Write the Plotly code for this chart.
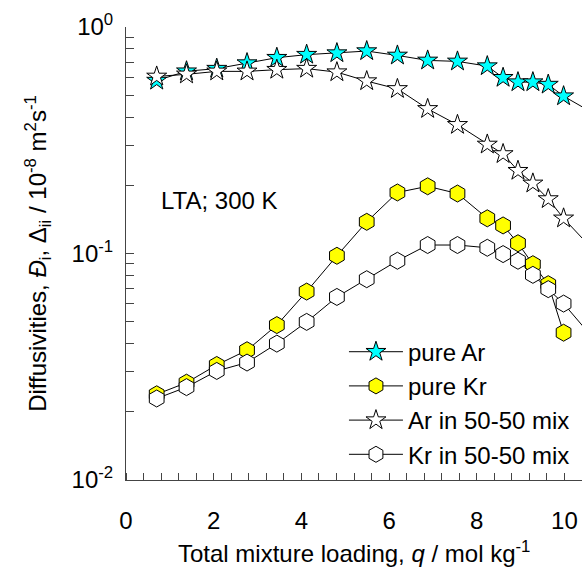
import plotly.graph_objects as go

# Loading points (mol/kg) shared by all four series
q = [0.70, 1.38, 2.07, 2.76, 3.44, 4.12, 4.81, 5.49, 6.19, 6.88,
     7.56, 8.24, 8.60, 8.94, 9.28, 9.63, 9.98]
# One extra loading beyond the visible axis so lines run to the frame
q_ext = q + [10.67]

# Diffusivities, 10^-8 m2/s
pure_ar = [0.580, 0.638, 0.655, 0.693, 0.732, 0.755, 0.767, 0.783, 0.749, 0.712,
           0.705, 0.672, 0.597, 0.571, 0.571, 0.557, 0.495, 0.415]
pure_kr = [0.0239, 0.0269, 0.0322, 0.0374, 0.0483, 0.0679, 0.0977, 0.138, 0.186, 0.198,
           0.184, 0.143, 0.133, 0.111, 0.0897, 0.0732, 0.0447]
ar_mix = [0.605, 0.618, 0.637, 0.637, 0.648, 0.655, 0.632, 0.577, 0.533, 0.435,
          0.370, 0.303, 0.275, 0.232, 0.204, 0.174, 0.143, 0.103]
kr_mix = [0.0229, 0.0257, 0.0303, 0.0330, 0.0400, 0.0499, 0.0643, 0.0770, 0.0929, 0.109,
          0.109, 0.106, 0.0994, 0.0929, 0.0805, 0.0696, 0.0601, 0.0419]

names = ["pure Ar", "pure Kr", "Ar in 50-50 mix", "Kr in 50-50 mix"]

x_ticks = [0, 2, 4, 6, 8, 10]
y_decades = [0.01, 0.1, 1]
y_decade_labels = ["10<sup>-2</sup>", "10<sup>-1</sup>", "10<sup>0</sup>"]

FONT = "Liberation Sans, Arial, sans-serif"
FS = 24
AXIS_COLOR = "#444"

# all log-axis ticks (2..9 within each decade), labelled only at decades
y_tickvals = []
y_ticktext = []
for d, lab in zip(y_decades[:-1], y_decade_labels[:-1]):
    for k in range(1, 10):
        y_tickvals.append(round(d * k, 6))
        y_ticktext.append(lab if k == 1 else "")
y_tickvals.append(y_decades[-1])
y_ticktext.append(y_decade_labels[-1])

line = dict(color="black", width=1)
fig = go.Figure()
fig.add_trace(go.Scatter(
    x=q_ext, y=pure_ar, name=names[0], mode="lines+markers", line=line,
    marker=dict(symbol="star", size=15, color="#00FFFF",
                line=dict(color="black", width=1))))
fig.add_trace(go.Scatter(
    x=q, y=pure_kr, name=names[1], mode="lines+markers", line=line,
    marker=dict(symbol="hexagon", size=17, color="#FFFF00",
                line=dict(color="black", width=1))))
fig.add_trace(go.Scatter(
    x=q_ext, y=ar_mix, name=names[2], mode="lines+markers", line=line,
    marker=dict(symbol="star", size=15, color="white",
                line=dict(color="black", width=1))))
fig.add_trace(go.Scatter(
    x=q_ext, y=kr_mix, name=names[3], mode="lines+markers", line=line,
    marker=dict(symbol="hexagon", size=17, color="white",
                line=dict(color="black", width=1))))

fig.add_annotation(
    text="LTA; 300 K", xref="paper", yref="paper", x=0.072, y=0.618,
    xanchor="left", yanchor="middle", showarrow=False,
    font=dict(family=FONT, size=FS, color="black"))

# x-axis title, centred under the plot area
fig.add_annotation(
    text="Total mixture loading, <i>q</i> / mol kg<sup>-1</sup>",
    xref="paper", yref="paper", x=0.5, y=-0.159,
    xanchor="center", yanchor="middle", showarrow=False,
    font=dict(family=FONT, size=FS, color="black"))

fig.update_layout(
    width=582, height=574,
    margin=dict(l=126, r=0, t=27, b=94),
    paper_bgcolor="white", plot_bgcolor="white",
    font=dict(family=FONT, size=FS, color="black"),
    showlegend=True,
    legend=dict(x=0.478, y=0.332, xanchor="left", yanchor="top",
                bgcolor="rgba(0,0,0,0)", font=dict(family=FONT, size=FS),
                itemwidth=54, tracegroupgap=0),
    xaxis=dict(
        range=[0, 10.4], showgrid=False, zeroline=False,
        showline=True, linecolor=AXIS_COLOR, linewidth=1,
        # labels pushed below the axis by an invisible outer tick
        tickvals=x_ticks, ticks="outside", ticklen=19, tickcolor="rgba(0,0,0,0)",
        # visible inner ticks every 0.4
        minor=dict(dtick=0.4, tick0=0.0001, ticks="inside", ticklen=7,
                   tickcolor=AXIS_COLOR),
        automargin=False),
    yaxis=dict(
        type="log", range=[-2, 0], showgrid=False, zeroline=False,
        showline=True, linecolor=AXIS_COLOR, linewidth=1,
        tickvals=y_tickvals, ticktext=y_ticktext,
        ticks="inside", ticklen=8, tickcolor=AXIS_COLOR,
        ticklabelstandoff=7,
        title=dict(text="Diffusivities, <i>Đ</i><sub>i</sub>, Δ<sub>ii</sub> / 10<sup>-8</sup> m<sup>2</sup>s<sup>-1</sup>",
                   standoff=18, font=dict(size=FS)),
        automargin=False),
)

fig.write_html("out.html")
